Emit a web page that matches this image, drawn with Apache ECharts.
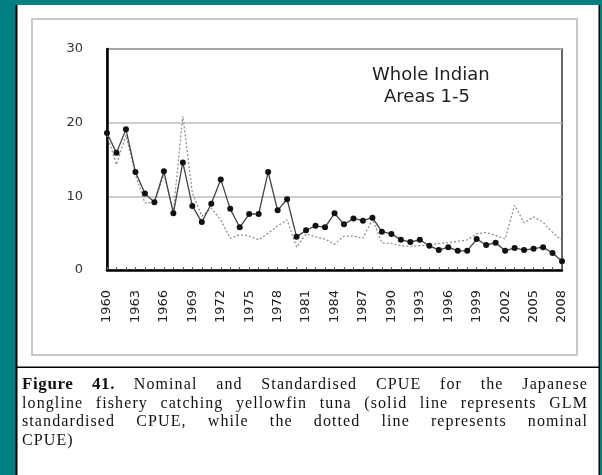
<!DOCTYPE html>
<html lang="en">
<head>
    <meta charset="utf-8">
    <title>CPUE</title>
    <script src="https://cdn.jsdelivr.net/npm/echarts@6/dist/echarts.min.js"></script>
    <style>
        body { margin: 0; background: #008080; }
        #wrap { position: relative; width: 602px; height: 475px; }
        #main { position: absolute; left: 0; top: 0; width: 602px; height: 475px; }
        #caption {
            position: absolute; left: 22px; top: 375px; width: 566px;
            font-family: "Liberation Serif", serif; font-size: 16px; line-height: 18.5px;
            letter-spacing: 1.1px; color: #111;
        }
        #caption span { display: block; text-align: justify; text-align-last: justify; white-space: nowrap; }
        #caption span.last { text-align-last: left; }
    </style>
</head>
<body>
<div id="wrap">
    <div id="main"></div>
    <div id="caption">
        <span><b style="font-size:17px;letter-spacing:0.6px">Figure 41.</b> Nominal and Standardised CPUE for the Japanese</span>
        <span>longline fishery catching yellowfin tuna (solid line represents GLM</span>
        <span>standardised CPUE, while the dotted line represents nominal</span>
        <span class="last">CPUE)</span>
    </div>
</div>
<script type="text/javascript">
    // years 1960 - 2008
    var years = [];
    for (var y = 1960; y <= 2008; y++) years.push(String(y));

    // GLM standardised CPUE (solid line with markers)
    var standardised = [
        18.6, 15.9, 19.1, 13.3, 10.4, 9.2, 13.4, 7.7, 14.6, 8.7,
        6.5, 9.0, 12.3, 8.3, 5.8, 7.6, 7.6, 13.3, 8.1, 9.6,
        4.5, 5.4, 6.0, 5.8, 7.7, 6.2, 7.0, 6.7, 7.1, 5.2,
        4.9, 4.1, 3.8, 4.1, 3.3, 2.7, 3.1, 2.6, 2.6, 4.2,
        3.4, 3.7, 2.6, 3.0, 2.7, 2.9, 3.1, 2.3, 1.2
    ];

    // nominal CPUE (dotted line)
    var nominal = [
        18.3, 14.3, 18.3, 13.0, 9.1, 9.1, 13.0, 8.0, 20.9, 10.5,
        7.3, 8.4, 6.8, 4.3, 4.8, 4.6, 4.1, 5.0, 6.0, 6.8,
        3.1, 4.9, 4.5, 4.2, 3.5, 4.6, 4.6, 4.3, 6.9, 3.7,
        3.6, 3.3, 3.2, 3.3, 3.4, 3.6, 3.7, 3.9, 4.1, 4.9,
        5.1, 4.7, 4.2, 8.8, 6.4, 7.2, 6.5, 5.1, 4.0
    ];

    var yTicks = [0, 10, 20, 30];

    var chart = echarts.init(document.getElementById('main'));
    chart.setOption({
        backgroundColor: '#008080',
        animation: false,
        graphic: [
            { type: 'rect', z: -10, shape: { x: 17, y: 5, width: 582, height: 470 }, style: { fill: '#ffffff' } },
            { type: 'rect', z: -9, shape: { x: 15.5, y: 5, width: 2, height: 470 }, style: { fill: '#000' } },
            { type: 'rect', z: -9, shape: { x: 598.5, y: 5, width: 1.5, height: 470 }, style: { fill: '#000' } },
            { type: 'rect', z: -9, shape: { x: 17, y: 366.5, width: 582, height: 1.5 }, style: { fill: '#000' } },
            { type: 'rect', z: -8, shape: { x: 32, y: 19, width: 545, height: 336 },
              style: { fill: '#fff', stroke: '#c8c8c8', lineWidth: 2 } },
            { type: 'text', left: 372, top: 66, z: 10,
              style: { text: 'Whole Indian', font: '18px "DejaVu Sans"', fill: '#222' } },
            { type: 'text', left: 384, top: 88, z: 10,
              style: { text: 'Areas 1-5', font: '18px "DejaVu Sans"', fill: '#222' } }
        ],
        grid: {
            left: 107, right: 40, top: 49, bottom: 205,
            show: true, borderColor: '#333', borderWidth: 1.5, backgroundColor: '#fff'
        },
        xAxis: {
            type: 'category',
            data: years,
            boundaryGap: false,
            axisLine: { lineStyle: { color: '#000', width: 2.5 } },
            axisTick: { inside: true, length: 3, interval: 0, lineStyle: { color: '#555' } },
            axisLabel: {
                interval: 2, rotate: 90, margin: 20,
                fontFamily: 'DejaVu Sans', fontSize: 13, color: '#222'
            },
            splitLine: { show: false }
        },
        yAxis: {
            type: 'value',
            min: yTicks[0], max: yTicks[yTicks.length - 1], interval: 10,
            axisLine: { show: true, lineStyle: { color: '#000', width: 2.5 } },
            axisTick: { show: false },
            axisLabel: { margin: 24, fontFamily: 'DejaVu Sans', fontSize: 13, color: '#333' },
            splitLine: { lineStyle: { color: '#bdbdbd', width: 1.5 } }
        },
        series: [
            {
                name: 'Nominal',
                type: 'line',
                data: nominal,
                symbol: 'none',
                lineStyle: { color: '#888', width: 1.2, type: [2, 2] },
                z: 3
            },
            {
                name: 'Standardised',
                type: 'line',
                data: standardised,
                symbol: 'circle',
                symbolSize: 6,
                itemStyle: { color: '#111' },
                lineStyle: { color: '#444', width: 1.3 },
                z: 4
            }
        ]
    });
</script>
</body>
</html>
